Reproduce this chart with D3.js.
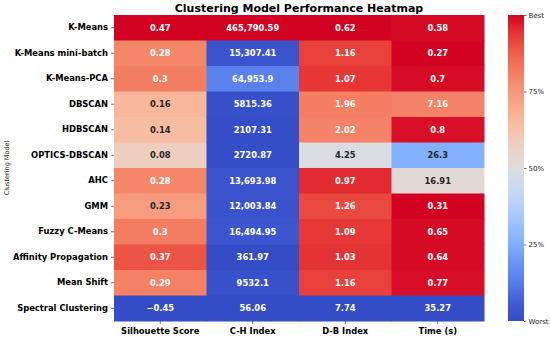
<!DOCTYPE html>
<html>
<head>
<meta charset="utf-8">
<script src="https://cdn.jsdelivr.net/npm/d3@7"></script>
<style>
  html, body { margin: 0; padding: 0; background: #fff; }
  svg { display: block; font-family: "DejaVu Sans", sans-serif; }
</style>
</head>
<body>
<svg id="chart" width="550" height="339"></svg>
<script>
// ---------- data ----------
const models = ["K-Means", "K-Means mini-batch", "K-Means-PCA", "DBSCAN", "HDBSCAN", "OPTICS-DBSCAN",
  "AHC", "GMM", "Fuzzy C-Means", "Affinity Propagation", "Mean Shift", "Spectral Clustering"];
const metrics = ["Silhouette Score", "C-H Index", "D-B Index", "Time (s)"];
const higherIsBetter = [true, true, false, false];
const silhouette = [0.47, 0.28, 0.3, 0.16, 0.14, 0.08, 0.28, 0.23, 0.3, 0.37, 0.29, -0.45];
const chIndex = [465790.59, 15307.41, 64953.9, 5815.36, 2107.31, 2720.87, 13693.98, 12003.84, 16494.95, 361.97, 9532.1, 56.06];
const dbIndex = [0.62, 1.16, 1.07, 1.96, 2.02, 4.25, 0.97, 1.26, 1.09, 1.03, 1.16, 7.74];
const timeSec = [0.58, 0.27, 0.7, 7.16, 0.8, 26.3, 16.91, 0.31, 0.65, 0.64, 0.77, 35.27];
const silhouetteText = ["0.47", "0.28", "0.3", "0.16", "0.14", "0.08", "0.28", "0.23", "0.3", "0.37", "0.29", "\u22120.45"];
const chText = ["465,790.59", "15,307.41", "64,953.9", "5815.36", "2107.31", "2720.87", "13,693.98", "12,003.84", "16,494.95", "361.97", "9532.1", "56.06"];
const dbText = ["0.62", "1.16", "1.07", "1.96", "2.02", "4.25", "0.97", "1.26", "1.09", "1.03", "1.16", "7.74"];
const timeText = ["0.58", "0.27", "0.7", "7.16", "0.8", "26.3", "16.91", "0.31", "0.65", "0.64", "0.77", "35.27"];
const colorbarTicks = [0, 0.25, 0.5, 0.75, 1];
const colorbarLabels = ["Worst", "25%", "50%", "75%", "Best"];
const chartTitle = "Clustering Model Performance Heatmap";
const yTitle = "Clustering Model";

// ---------- colormap (coolwarm-like) ----------
const cmapStops = [
  [0.0, [52, 76, 198]], [0.0625, [66, 94, 214]], [0.125, [86, 124, 234]], [0.1875, [106, 146, 246]],
  [0.25, [128, 174, 255]], [0.3125, [154, 192, 255]], [0.375, [180, 208, 252]], [0.4375, [204, 217, 240]],
  [0.5, [221, 221, 221]], [0.5625, [236, 210, 197]], [0.625, [246, 194, 170]], [0.6875, [249, 174, 145]],
  [0.75, [247, 152, 122]], [0.8125, [243, 126, 98]], [0.875, [238, 96, 76]], [0.9375, [230, 55, 54]],
  [1.0, [210, 2, 34]]
];
const cmap = d3.scaleLinear()
  .domain(cmapStops.map(d => d[0]))
  .range(cmapStops.map(d => d3.rgb(...d[1]).toString()))
  .interpolate(d3.interpolateRgb)
  .clamp(true);

function luminance(c) {
  const rgb = d3.rgb(c);
  const lin = v => { v /= 255; return v <= 0.03928 ? v / 12.92 : Math.pow((v + 0.055) / 1.055, 2.4); };
  return 0.2126 * lin(rgb.r) + 0.7152 * lin(rgb.g) + 0.0722 * lin(rgb.b);
}

// ---------- build cells ----------
const columns = [silhouette, chIndex, dbIndex, timeSec];
const texts = [silhouetteText, chText, dbText, timeText];
const cells = [];
columns.forEach((col, j) => {
  const mn = d3.min(col), mx = d3.max(col);
  col.forEach((v, i) => {
    let t = (v - mn) / (mx - mn);
    if (!higherIsBetter[j]) t = 1 - t;
    cells.push({ row: models[i], col: metrics[j], t, label: texts[j][i] });
  });
});

// ---------- layout ----------
const svg = d3.select("#chart");
const mLeft = 114, mRight = 484, mTop = 15, mBottom = 321;
const x = d3.scaleBand().domain(metrics).range([mLeft, mRight]);
const y = d3.scaleBand().domain(models).range([mTop, mBottom]);

svg.append("g").selectAll("rect").data(cells).join("rect")
  .attr("x", d => x(d.col))
  .attr("y", d => y(d.row))
  .attr("width", x.bandwidth() + 0.5)
  .attr("height", y.bandwidth() + 0.5)
  .attr("fill", d => cmap(d.t));

svg.append("g").selectAll("text").data(cells).join("text")
  .attr("x", d => x(d.col) + x.bandwidth() / 2)
  .attr("y", d => y(d.row) + y.bandwidth() / 2)
  .attr("dy", "0.36em")
  .attr("text-anchor", "middle")
  .attr("font-size", 8.4)
  .attr("font-weight", "bold")
  .attr("fill", d => luminance(cmap(d.t)) > 0.408 ? "#262626" : "#ffffff")
  .text(d => d.label);

// axes
const yAxis = svg.append("g").attr("transform", `translate(${mLeft},0)`)
  .call(d3.axisLeft(y).tickSize(3).tickPadding(3));
yAxis.select(".domain").remove();
yAxis.selectAll("line").attr("stroke", "#333").attr("stroke-width", 0.7);
yAxis.selectAll("text").attr("font-size", 8.4).attr("font-weight", "bold")
  .attr("fill", "#000").attr("font-family", "DejaVu Sans");

const xAxis = svg.append("g").attr("transform", `translate(0,${mBottom})`)
  .call(d3.axisBottom(x).tickSize(3).tickPadding(4));
xAxis.select(".domain").remove();
xAxis.selectAll("line").attr("stroke", "#333").attr("stroke-width", 0.7);
xAxis.selectAll("text").attr("font-size", 8.4).attr("font-weight", "bold")
  .attr("fill", "#000").attr("font-family", "DejaVu Sans");

// title
svg.append("text")
  .attr("x", (mLeft + mRight) / 2).attr("y", 11.5)
  .attr("text-anchor", "middle")
  .attr("font-size", 11).attr("font-weight", "bold")
  .attr("fill", "#000")
  .text(chartTitle);

// y title
svg.append("text")
  .attr("transform", `translate(9,${(mTop + mBottom) / 2}) rotate(-90)`)
  .attr("text-anchor", "middle")
  .attr("font-size", 6.5)
  .attr("fill", "#222")
  .text(yTitle);

// colorbar
const cbX = 508, cbW = 16;
const defs = svg.append("defs");
const grad = defs.append("linearGradient").attr("id", "cbgrad")
  .attr("x1", 0).attr("y1", 1).attr("x2", 0).attr("y2", 0);
d3.range(0, 1.0001, 0.02).forEach(t => {
  grad.append("stop").attr("offset", t).attr("stop-color", cmap(t));
});
svg.append("rect").attr("x", cbX).attr("y", mTop).attr("width", cbW).attr("height", mBottom - mTop)
  .attr("fill", "url(#cbgrad)");
const cbScale = d3.scaleLinear().domain([0, 1]).range([mBottom, mTop]);
const cbAxis = svg.append("g").attr("transform", `translate(${cbX + cbW},0)`)
  .call(d3.axisRight(cbScale).tickValues(colorbarTicks).tickSize(2.5).tickPadding(2)
    .tickFormat((d, i) => colorbarLabels[i]));
cbAxis.select(".domain").remove();
cbAxis.selectAll("line").attr("stroke", "#333").attr("stroke-width", 0.7);
cbAxis.selectAll("text").attr("font-size", 7).attr("fill", "#222").attr("font-family", "DejaVu Sans");
</script>
</body>
</html>
